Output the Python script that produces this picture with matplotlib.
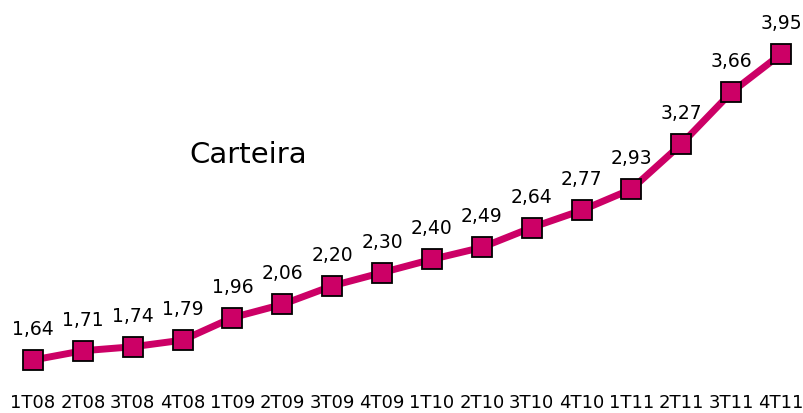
import matplotlib
matplotlib.use("Agg")
import matplotlib.pyplot as plt

categories = ["1T08", "2T08", "3T08", "4T08", "1T09", "2T09", "3T09", "4T09",
              "1T10", "2T10", "3T10", "4T10", "1T11", "2T11", "3T11", "4T11"]
values = [1.64, 1.71, 1.74, 1.79, 1.96, 2.06, 2.20, 2.30,
          2.40, 2.49, 2.64, 2.77, 2.93, 3.27, 3.66, 3.95]

color = "#CC0066"
fig = plt.figure(figsize=(8.04, 4.13), dpi=100)
ax = fig.add_axes([0, 0, 1, 1])
ax.axis("off")
x = list(range(len(categories)))
ax.plot(x, values, color=color, lw=5, marker="s", ms=14,
        markerfacecolor=color, markeredgecolor="black", markeredgewidth=1.3,
        solid_joinstyle="miter")
ax.set_xlim(-0.662, 15.46)
ax.set_ylim(1.24, 4.358)

for xi, v in zip(x, values):
    ax.annotate(f"{v:.2f}".replace(".", ","), (xi, v), xytext=(0, 22),
                textcoords="offset points", ha="center", va="center",
                fontsize=13.5, family="DejaVu Sans")
for xi, c in zip(x, categories):
    ax.text(xi, 10 / 413, c, transform=ax.get_xaxis_transform(),
            ha="center", va="center", fontsize=13, family="DejaVu Sans")

ax.text(248 / 804, 1 - 155 / 413, "Carteira", transform=ax.transAxes,
        ha="center", va="center", fontsize=21, family="DejaVu Sans")

fig.savefig("out.png", dpi=100)
